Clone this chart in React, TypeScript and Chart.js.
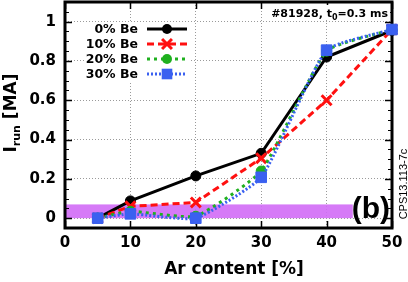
import { useEffect, useRef } from 'react';
import { Chart, registerables } from 'chart.js';
Chart.register(...registerables);

const AR_CONTENT = [5, 10, 20, 30, 40, 50];
const BE0 = [0, 0.088, 0.215, 0.33, 0.82, 0.955];
const BE10 = [0, 0.06, 0.08, 0.305, 0.6, 0.96];
const BE20 = [0, 0.035, 0.01, 0.24, 0.85, 0.96];
const BE30 = [0, 0.022, 0.0, 0.208, 0.855, 0.96];
const SERIES_LABELS = ['0% Be', '10% Be', '20% Be', '30% Be'];
const X_TICKS = [0, 10, 20, 30, 40, 50];
const Y_TICKS = [0, 0.2, 0.4, 0.6, 0.8, 1];
const BAND_X = [0, 44];
const BAND_Y = [0, 0.07];
const SHOT_LABEL = ['#81928, t', '0', '=0.3 ms'];
const PANEL_LABEL = '(b)';
const FIG_ID = 'CPS13.113-7c';
const X_TITLE = 'Ar content [%]';
const Y_TITLE = ['I', 'run', ' [MA]'];

const FONT = 'DejaVu Sans';
const COLORS = ['#000000', '#ff1010', '#1fb01f', '#3a60f0'];
const DASHES: number[][] = [[], [7, 4], [3, 4], [2, 2]];
const STYLES = ['circle', 'crossRot', 'circle', 'rect'];
const RADII = [5, 7, 5, 7.5];

function drawMarker(ctx: CanvasRenderingContext2D, style: string, x: number, y: number, r: number, color: string) {
  ctx.save();
  ctx.fillStyle = color;
  ctx.strokeStyle = color;
  ctx.setLineDash([]);
  if (style === 'circle') {
    ctx.beginPath();
    ctx.arc(x, y, r, 0, Math.PI * 2);
    ctx.fill();
  } else if (style === 'rect') {
    const s = r * Math.SQRT1_2;
    ctx.fillRect(x - s, y - s, 2 * s, 2 * s);
  } else {
    const o = r * Math.SQRT1_2;
    ctx.lineWidth = 3;
    ctx.beginPath();
    ctx.moveTo(x - o, y - o);
    ctx.lineTo(x + o, y + o);
    ctx.moveTo(x - o, y + o);
    ctx.lineTo(x + o, y - o);
    ctx.stroke();
  }
  ctx.restore();
}

const decor = {
  id: 'decor',
  beforeDatasetsDraw(chart: any) {
    const { ctx, chartArea: a, scales } = chart;
    const x = scales.x;
    const y = scales.y;
    ctx.save();
    // shaded band
    ctx.fillStyle = 'rgba(210, 108, 246, 0.9)';
    const bx0 = x.getPixelForValue(BAND_X[0]);
    const bx1 = x.getPixelForValue(BAND_X[1]);
    const by0 = y.getPixelForValue(BAND_Y[1]);
    const by1 = y.getPixelForValue(BAND_Y[0]);
    ctx.fillRect(bx0, by0, bx1 - bx0, by1 - by0);
    // ticks
    ctx.strokeStyle = '#000';
    ctx.lineWidth = 1.5;
    ctx.beginPath();
    X_TICKS.forEach((v) => {
      const px = Math.round(x.getPixelForValue(v)) + 0.5;
      ctx.moveTo(px, a.bottom);
      ctx.lineTo(px, a.bottom - 7);
      ctx.moveTo(px, a.top);
      ctx.lineTo(px, a.top + 7);
    });
    Y_TICKS.forEach((v) => {
      const py = Math.round(y.getPixelForValue(v)) + 0.5;
      ctx.moveTo(a.left, py);
      ctx.lineTo(a.left + 7, py);
      ctx.moveTo(a.right, py);
      ctx.lineTo(a.right - 7, py);
    });
    ctx.stroke();
    ctx.lineWidth = 1;
    ctx.beginPath();
    for (let i = -1; i <= 22; i++) {
      const v = i * 0.05;
      if (v < y.min || v > y.max) continue;
      const py = Math.round(y.getPixelForValue(v)) + 0.5;
      ctx.moveTo(a.left, py);
      ctx.lineTo(a.left + 4, py);
      ctx.moveTo(a.right, py);
      ctx.lineTo(a.right - 4, py);
    }
    ctx.stroke();
    // frame
    ctx.lineWidth = 3;
    ctx.strokeRect(a.left, a.top, a.right - a.left, a.bottom - a.top);
    ctx.restore();
  },
  afterDraw(chart: any) {
    const { ctx } = chart;
    ctx.save();
    // legend
    ctx.fillStyle = '#fff';
    ctx.fillRect(85, 23, 104, 58);
    const rows = [29, 44, 59, 74];
    ctx.font = `bold 12.5px "${FONT}"`;
    ctx.textAlign = 'right';
    ctx.textBaseline = 'middle';
    SERIES_LABELS.forEach((lab, i) => {
      ctx.fillStyle = '#000';
      ctx.fillText(lab, 138, rows[i] + 1);
      ctx.strokeStyle = COLORS[i];
      ctx.lineWidth = 3;
      ctx.setLineDash(DASHES[i]);
      ctx.beginPath();
      ctx.moveTo(147, rows[i]);
      ctx.lineTo(187, rows[i]);
      ctx.stroke();
      ctx.setLineDash([]);
      drawMarker(ctx, STYLES[i], 167, rows[i], RADII[i], COLORS[i]);
    });
    // shot label
    ctx.textAlign = 'left';
    ctx.textBaseline = 'alphabetic';
    const f1 = `bold 11px "${FONT}"`;
    const f2 = `bold 8px "${FONT}"`;
    ctx.font = f1;
    const w1 = ctx.measureText(SHOT_LABEL[0]).width;
    const w3 = ctx.measureText(SHOT_LABEL[2]).width;
    ctx.font = f2;
    const w2 = ctx.measureText(SHOT_LABEL[1]).width;
    const total = w1 + w2 + w3;
    const sx = 388 - total;
    ctx.fillStyle = '#fff';
    ctx.fillRect(sx - 3, 5, total + 5, 15);
    ctx.fillStyle = '#000';
    ctx.font = f1;
    ctx.fillText(SHOT_LABEL[0], sx, 17);
    ctx.font = f2;
    ctx.fillText(SHOT_LABEL[1], sx + w1, 20);
    ctx.font = f1;
    ctx.fillText(SHOT_LABEL[2], sx + w1 + w2, 17);
    // panel label
    ctx.font = 'bold 30px "Liberation Sans"';
    ctx.textAlign = 'right';
    ctx.fillText(PANEL_LABEL, 390, 218);
    // x title
    ctx.font = `bold 17px "${FONT}"`;
    ctx.textAlign = 'center';
    ctx.fillText(X_TITLE, 234, 274);
    // y title
    const m1 = `bold 17px "${FONT}"`;
    const m2 = `bold 11px "${FONT}"`;
    ctx.font = m1;
    const a1 = ctx.measureText(Y_TITLE[0]).width;
    const a3 = ctx.measureText(Y_TITLE[2]).width;
    ctx.font = m2;
    const a2 = ctx.measureText(Y_TITLE[1]).width;
    const yt = a1 + a2 + a3;
    ctx.save();
    ctx.translate(16, 113 + yt / 2);
    ctx.rotate(-Math.PI / 2);
    ctx.textAlign = 'left';
    ctx.font = m1;
    ctx.fillText(Y_TITLE[0], 0, 0);
    ctx.font = m2;
    ctx.fillText(Y_TITLE[1], a1, 4);
    ctx.font = m1;
    ctx.fillText(Y_TITLE[2], a1 + a2, 0);
    ctx.restore();
    // figure id
    ctx.save();
    ctx.translate(407, 184);
    ctx.rotate(-Math.PI / 2);
    ctx.font = '11px "Liberation Sans"';
    ctx.textAlign = 'center';
    ctx.fillText(FIG_ID, 0, 0);
    ctx.restore();
    ctx.restore();
  },
};

export default function App() {
  const ref = useRef<HTMLCanvasElement>(null);
  useEffect(() => {
    const series = [BE0, BE10, BE20, BE30];
    const orders = [3, 2, 1, 0];
    const tensions = [0, 0, 0.15, 0.15];
    const chart = new Chart(ref.current as HTMLCanvasElement, {
      type: 'line',
      data: {
        datasets: series.map((vals, i) => ({
          label: SERIES_LABELS[i],
          data: AR_CONTENT.map((xv, j) => ({ x: xv, y: vals[j] })),
          borderColor: COLORS[i],
          backgroundColor: COLORS[i],
          borderWidth: 3,
          borderDash: DASHES[i],
          pointStyle: STYLES[i] as any,
          pointRadius: RADII[i],
          pointBorderWidth: i === 1 ? 3 : 1,
          pointBorderColor: COLORS[i],
          pointBackgroundColor: COLORS[i],
          tension: tensions[i],
          order: orders[i],
          clip: false as any,
          fill: false,
        })),
      },
      options: {
        responsive: false,
        animation: false,
        devicePixelRatio: 1,
        layout: { autoPadding: false, padding: { top: 2, right: 16, left: 0, bottom: 0 } },
        plugins: { legend: { display: false }, tooltip: { enabled: false } },
        scales: {
          x: {
            type: 'linear',
            min: 0,
            max: 50,
            afterBuildTicks: (s: any) => {
              s.ticks = X_TICKS.map((v) => ({ value: v }));
            },
            afterFit: (s: any) => {
              s.height = 54;
            },
            ticks: {
              font: { family: FONT, weight: 'bold', size: 15 },
              color: '#000',
              padding: 0,
              maxRotation: 0,
              callback: (v: any) => String(v),
            },
            grid: { color: '#9a9a9a', lineWidth: 1, drawTicks: true, tickLength: 6, tickColor: 'rgba(0,0,0,0)' },
            border: { display: false, dash: [1, 2] },
          },
          y: {
            type: 'linear',
            min: -0.05,
            max: 1.1,
            afterBuildTicks: (s: any) => {
              s.ticks = Y_TICKS.map((v) => ({ value: v }));
            },
            afterFit: (s: any) => {
              s.width = 65;
            },
            ticks: {
              font: { family: FONT, weight: 'bold', size: 15, lineHeight: 0.1 },
              color: '#000',
              padding: 0,
              callback: (v: any) => String(Math.round(Number(v) * 10) / 10),
            },
            grid: { color: '#9a9a9a', lineWidth: 1, drawTicks: true, tickLength: 9, tickColor: 'rgba(0,0,0,0)' },
            border: { display: false, dash: [1, 2] },
          },
        },
      },
      plugins: [decor],
    });
    return () => chart.destroy();
  }, []);
  return (
    <div style={{ position: 'fixed', left: 0, top: 0, width: 408, height: 282, background: '#fff' }}>
      <canvas ref={ref} width={408} height={282} style={{ display: 'block' }} />
    </div>
  );
}
